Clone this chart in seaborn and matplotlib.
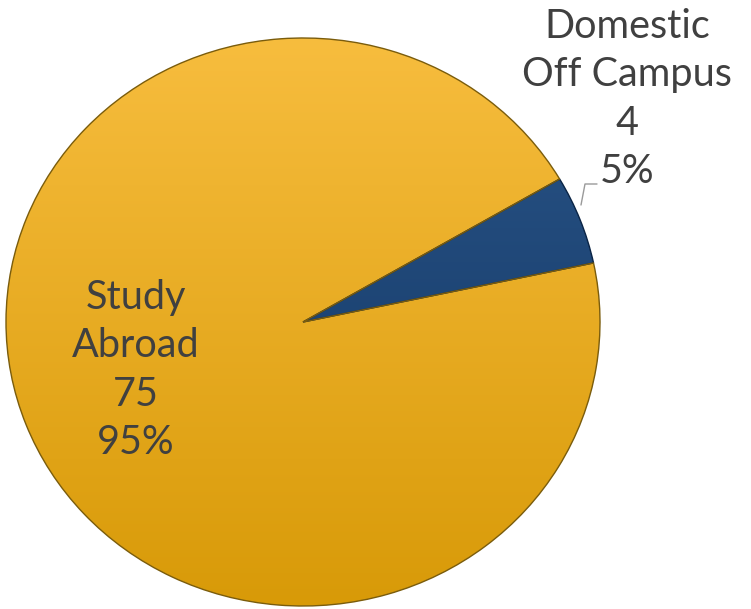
import numpy as np
import matplotlib.pyplot as plt
import seaborn as sns
from matplotlib.colors import LinearSegmentedColormap

sns.set_theme(style="white")
plt.rcParams['font.family'] = ['Lato', 'DejaVu Sans']

# data
names = ['Domestic\nOff Campus', 'Study\nAbroad']
counts = [4, 75]
colors_top = ['#2b5588', '#f7bd3e']
colors_bottom = ['#0f3461', '#d89a08']

W, H = 751, 609
fig = plt.figure(figsize=(W / 100, H / 100), dpi=100)
ax = fig.add_axes([0, 0, 1, 1])

# ellipse radii in px -> data units of 1 radius
rx, ry = 297, 284
cx, cy = 303, 322
center = (cx / rx, (H - cy) / ry)

wedges, _ = ax.pie(counts, colors=colors_top, startangle=12, counterclock=True,
                   center=center, radius=1, frame=True,
                   wedgeprops=dict(edgecolor='#7a5c0c', linewidth=1.0))

# vertical gradient fill clipped to each wedge (light at top, dark at bottom)
grad = np.linspace(0, 1, 256).reshape(-1, 1)
x0, x1 = center[0] - 1, center[0] + 1
y0, y1 = center[1] - 1, center[1] + 1
for w, ct, cb in zip(wedges, colors_top, colors_bottom):
    cmap = LinearSegmentedColormap.from_list('g', [ct, cb])
    im = ax.imshow(grad, cmap=cmap, extent=[x0, x1, y0, y1], aspect='auto',
                   origin='upper', zorder=w.get_zorder() + 0.1)
    im.set_clip_path(w)
    w.set_zorder(w.get_zorder() + 0.2)
    w.set_facecolor('none')
wedges[0].set_edgecolor('#0a2445')

ax.set_xlim(0, W / rx)
ax.set_ylim(0, H / ry)
ax.set_aspect('auto')
ax.axis('off')

# labels
total = sum(counts)
label_px = [(627, 99), (136, 370)]
for name, c, (lx, ly) in zip(names, counts, label_px):
    ax.text(lx / rx, (H - ly) / ry, f"{name}\n{c}\n{c / total:.0%}",
            ha='center', va='center', fontsize=28.5, color='#404040',
            linespacing=1.38, zorder=10)

# leader line for the small slice
lx = np.array([597, 585, 581]) / rx
ly = (H - np.array([184, 184, 205])) / ry
ax.plot(lx, ly, color='#9a9a9a', lw=1, zorder=10)

fig.savefig('out.png', dpi=100)
